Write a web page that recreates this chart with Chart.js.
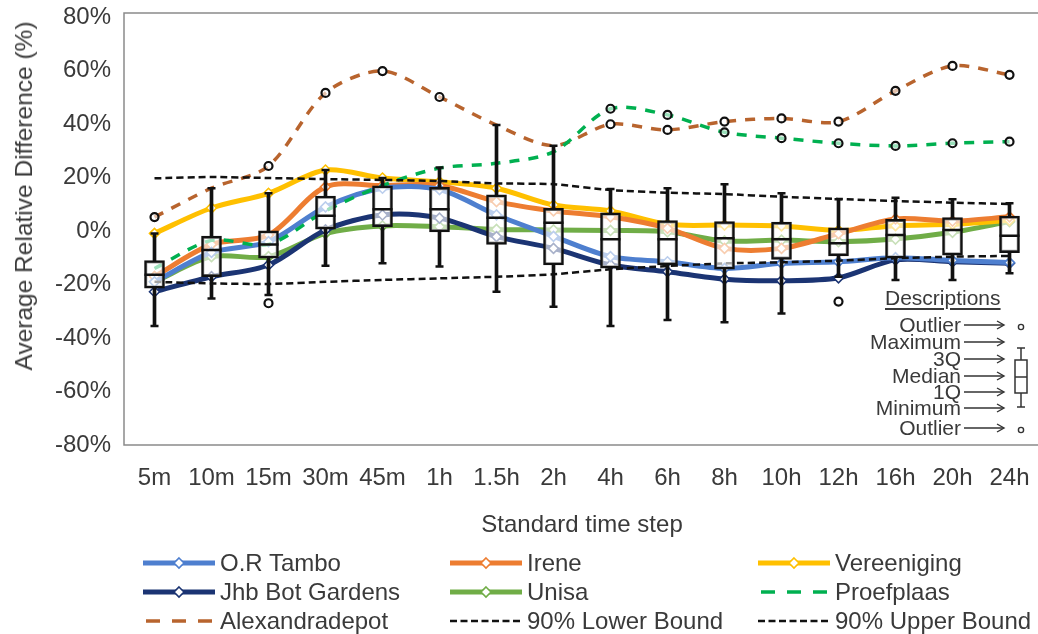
<!DOCTYPE html>
<html>
<head>
<meta charset="utf-8">
<script src="https://cdn.jsdelivr.net/npm/chart.js@4.4.1/dist/chart.umd.min.js"></script>
<style>
  html, body { margin: 0; padding: 0; background: #fff; }
  #wrap { position: relative; width: 1038px; height: 634px; overflow: hidden;
          font-family: 'Liberation Sans', Arial, sans-serif; color: #3a3a3a; }
  #c { position: absolute; left: 0; top: 0; }
  #ytitle { position: absolute; left: 24px; top: 196px; font-size: 24.5px; white-space: nowrap;
            transform: translate(-50%, -50%) rotate(-90deg); }
  .lg { position: absolute; height: 28px; font-size: 24px; line-height: 28px; white-space: nowrap;
        display: flex; align-items: center; }
  .lg svg { margin-right: 5px; flex: none; }
  .ds { position: absolute; font-size: 21px; line-height: 22px; white-space: nowrap;
        transform: translate(-100%, -50%); }
  #dtitle { position: absolute; left: 885px; top: 286px; font-size: 21px; line-height: 24px;
            text-decoration: underline; text-underline-offset: 3px; }
  #dsvg { position: absolute; left: 0; top: 0; }
</style>
</head>
<body>
<div id="wrap">
  <canvas id="c" width="1038" height="634"></canvas>
  <div id="ytitle">Average Relative Difference (%)</div>
  <div id="legend"></div>
  <div id="desc"></div>
</div>
<script>
// Time steps on the x axis and the y tick values
const categories = ['5m', '10m', '15m', '30m', '45m', '1h', '1.5h', '2h', '4h', '6h', '8h', '10h', '12h', '16h', '20h', '24h'];
const yTickValues = [-80, -60, -40, -20, 0, 20, 40, 60, 80];

// Average relative difference (%) per station
const orTambo        = [-19, -8, -4, 9, 16, 15.5, 6, -2, -9.6, -11.5, -14, -12.1, -11.5, -10, -11, -11.8];
const irene          = [-17, -5, -1.5, 16.5, 17, 17, 11, 7.5, 5.3, 1, -6.5, -6.5, -1, 4.5, 3.7, 5.3];
const vereeniging    = [-0.9, 8.6, 14.1, 22.8, 19.8, 18.4, 16, 9.7, 7.5, 2.5, 2.2, 1.9, 0.2, 2, 2.5, 4];
const jhbBotGardens  = [-22.7, -17.1, -12.7, 0.4, 6, 4.8, -2.1, -6.5, -12.7, -15.2, -18, -18.6, -17.5, -10.8, -11.5, -12.1];
const unisa          = [-19, -9.6, -9.6, -0.9, 1.9, 1.6, 0.6, 0.4, 0.2, -0.3, -3.7, -3.4, -4, -3, -0.5, 3.5];
const proefplaas     = [-14, -3.5, -5, 7.5, 17, 23.5, 25.3, 29.6, 45.7, 43.4, 36.9, 34.7, 32.8, 31.8, 32.8, 33.4];
const alexandradepot = [5.2, 16, 24.3, 51.6, 59.8, 50.1, 39.6, 31.9, 39.9, 37.8, 40.9, 42.1, 40.9, 52.4, 61.7, 58.4];

// 90% bounds
const lowerBound = [-19.0, -19.6, -19.8, -19.0, -18.3, -17.7, -17.1, -16.2, -14.3, -13.1, -12.1, -11.7, -11.1, -10.2, -9.6, -9.3];
const upperBound = [19.7, 20.2, 19.8, 19.4, 19.1, 18.7, 17.8, 17.5, 15.3, 14.3, 13.8, 12.8, 12.0, 11.2, 10.6, 10.1];

// Box plot statistics per time step
const boxMin    = [-35.5, -25.2, -23.9, -13.0, -12.1, -13.3, -22.7, -28.3, -35.5, -33.3, -34.1, -30.8, -17.1, -18.3, -18.3, -15.8];
const boxQ1     = [-21.4, -17.1, -10.2, 0.7, 1.6, -0.3, -5.0, -12.7, -13.9, -12.7, -14.3, -10.6, -9.3, -10.2, -9.0, -8.1];
const boxMedian = [-16.4, -7.1, -5.0, 5.7, 8.1, 8.1, 5.0, 3.1, -3.1, -3.1, -2.7, -3.1, -4.6, -1.5, 0.4, -1.8];
const boxQ3     = [-11.1, -1.9, 0.1, 13.1, 16.9, 16.3, 13.5, 8.5, 6.8, 3.9, 3.5, 3.3, 1.2, 4.4, 5.0, 5.6];
const boxMax    = [-0.9, 16.0, 14.1, 22.8, 19.8, 23.7, 39.6, 31.9, 15.7, 16.0, 17.5, 14.1, 11.9, 12.4, 11.9, 10.4];

// Outliers (time step, value)
const outlierSteps  = ['5m', '15m', '15m', '30m', '45m', '1h', '4h', '4h', '6h', '6h', '8h', '8h', '10h', '10h', '12h', '12h', '12h', '16h', '16h', '20h', '20h', '24h', '24h'];
const outlierValues = [5.2, 24.3, -27.0, 51.6, 59.8, 50.1, 45.7, 39.9, 43.4, 37.8, 40.9, 36.9, 42.1, 34.7, 40.9, 32.8, -26.4, 52.4, 31.8, 61.7, 32.8, 58.4, 33.4];

const series = [
  { label: 'O.R Tambo',       data: orTambo,        color: '#4E7FCF', kind: 'solid' },
  { label: 'Irene',           data: irene,          color: '#ED7D31', kind: 'solid' },
  { label: 'Vereeniging',     data: vereeniging,    color: '#FFC000', kind: 'solid' },
  { label: 'Jhb Bot Gardens', data: jhbBotGardens,  color: '#1B3473', kind: 'solid' },
  { label: 'Unisa',           data: unisa,          color: '#70AD47', kind: 'solid' },
  { label: 'Proefplaas',      data: proefplaas,     color: '#00B050', kind: 'dash' },
  { label: 'Alexandradepot',  data: alexandradepot, color: '#B8642E', kind: 'dash' },
  { label: '90% Lower Bound', data: lowerBound,     color: '#111111', kind: 'bound' },
  { label: '90% Upper Bound', data: upperBound,     color: '#111111', kind: 'bound' }
];

function lineDataset(s) {
  const base = { type: 'line', label: s.label, data: s.data, borderColor: s.color, fill: false };
  if (s.kind === 'solid') {
    return Object.assign(base, { borderWidth: 5, tension: 0.3, order: 10,
      pointStyle: 'rectRot', pointRadius: 5, pointBackgroundColor: '#ffffff',
      pointBorderColor: s.color, pointBorderWidth: 1.6 });
  }
  if (s.kind === 'dash') {
    return Object.assign(base, { borderWidth: 3.5, borderDash: [10, 9], tension: 0.3, order: 9, pointRadius: 0 });
  }
  return Object.assign(base, { borderWidth: 2.5, borderDash: [7, 4], tension: 0.2, order: 8, pointRadius: 0 });
}

const boxDatasets = [
  { type: 'bar', label: 'box', data: categories.map((_, i) => [boxQ1[i], boxQ3[i]]),
    backgroundColor: 'rgba(255,255,255,0.62)', borderColor: '#111', borderWidth: 2.5,
    borderSkipped: false, barThickness: 20, grouped: false, order: 4 },
  { type: 'bar', label: 'whiskerLow', data: categories.map((_, i) => [boxMin[i], boxQ1[i]]),
    backgroundColor: '#111', borderWidth: 0, barThickness: 3, grouped: false, order: 3 },
  { type: 'bar', label: 'whiskerHigh', data: categories.map((_, i) => [boxQ3[i], boxMax[i]]),
    backgroundColor: '#111', borderWidth: 0, barThickness: 3, grouped: false, order: 3 },
  { type: 'line', label: 'capMin', data: boxMin, showLine: false, pointStyle: 'line',
    pointRadius: 4, pointBorderWidth: 2.5, pointBorderColor: '#111', order: 2 },
  { type: 'line', label: 'capMax', data: boxMax, showLine: false, pointStyle: 'line',
    pointRadius: 4, pointBorderWidth: 2.5, pointBorderColor: '#111', order: 2 },
  { type: 'line', label: 'median', data: boxMedian, showLine: false, pointStyle: 'line',
    pointRadius: 10, pointBorderWidth: 2.5, pointBorderColor: '#111', order: 2 },
  { type: 'line', label: 'outliers', data: outlierSteps.map((s, i) => ({ x: s, y: outlierValues[i] })),
    showLine: false, pointStyle: 'circle', pointRadius: 4, pointBorderWidth: 2.2,
    pointBorderColor: '#111', pointBackgroundColor: 'rgba(255,255,255,0.6)', order: 1 }
];

// Grey frame on the left, top and bottom of the plot area
const frame = {
  id: 'frame',
  beforeDatasetsDraw(chart) {
    const { ctx, chartArea: a } = chart;
    const l = a.left - 2, t = a.top - 4;
    ctx.save();
    ctx.strokeStyle = '#8a8a8a';
    ctx.lineWidth = 1.5;
    ctx.beginPath();
    ctx.moveTo(a.right + 2, t);
    ctx.lineTo(l, t);
    ctx.lineTo(l, a.bottom);
    ctx.lineTo(a.right + 2, a.bottom);
    ctx.stroke();
    ctx.restore();
  }
};

Chart.defaults.font.family = "'Liberation Sans', Arial, sans-serif";
Chart.defaults.font.size = 24;
Chart.defaults.color = '#3a3a3a';

new Chart(document.getElementById('c'), {
  type: 'bar',
  data: { labels: categories, datasets: series.map(lineDataset).concat(boxDatasets) },
  options: {
    responsive: false,
    animation: false,
    events: [],
    layout: { autoPadding: false, padding: { left: 0, right: -3, top: 17, bottom: 88 } },
    plugins: { legend: { display: false }, tooltip: { enabled: false } },
    scales: {
      x: {
        grid: { display: false, drawTicks: false },
        border: { display: false },
        ticks: { padding: 19, maxRotation: 0, autoSkip: false, color: '#3a3a3a' },
        title: { display: true, text: 'Standard time step', color: '#3a3a3a',
                 font: { size: 24 }, padding: { top: 0, bottom: 6 } },
        afterFit(s) { s.height = 101; s.paddingLeft = 0; s.paddingRight = 0; }
      },
      y: {
        min: -80, max: 80,
        grid: { display: false, drawTicks: false },
        border: { display: false },
        afterBuildTicks(s) { s.ticks = yTickValues.map(v => ({ value: v })); },
        ticks: { padding: 15, color: '#3a3a3a', callback: v => v + '%' },
        afterFit(s) { s.width = 126; s.paddingTop = 0; s.paddingBottom = 0; }
      }
    }
  },
  plugins: [frame]
});

// Legend in three columns
const legendCols = [143, 450, 758];
const legendRows = [563, 592, 621];
function swatch(s) {
  let inner;
  if (s.kind === 'solid') {
    inner = `<line x1="0" y1="8" x2="72" y2="8" stroke="${s.color}" stroke-width="5"/>` +
            `<path d="M36 3 L41 8 L36 13 L31 8 Z" fill="#fff" stroke="${s.color}" stroke-width="1.6"/>`;
  } else if (s.kind === 'dash') {
    inner = `<line x1="3" y1="8" x2="72" y2="8" stroke="${s.color}" stroke-width="3.5" stroke-dasharray="14 12"/>`;
  } else {
    inner = `<line x1="0" y1="8" x2="72" y2="8" stroke="${s.color}" stroke-width="2.5" stroke-dasharray="7 3.5"/>`;
  }
  return `<svg width="72" height="16" viewBox="0 0 72 16">${inner}</svg>`;
}
document.getElementById('legend').innerHTML = series.map((s, i) => {
  const x = legendCols[i % 3], y = legendRows[Math.floor(i / 3)] - 14;
  return `<div class="lg" style="left:${x}px;top:${y}px">${swatch(s)}<span>${s.label}</span></div>`;
}).join('');

// Box plot description key
const descLabels = ['Outlier', 'Maximum', '3Q', 'Median', '1Q', 'Minimum', 'Outlier'];
const descY = [325, 342, 359, 376, 392, 408, 428];
let html = '<div id="dtitle">Descriptions</div>';
descLabels.forEach((t, i) => { html += `<div class="ds" style="left:961px;top:${descY[i]}px">${t}</div>`; });
let svg = '<svg id="dsvg" width="1038" height="634">';
descY.forEach(y => {
  svg += `<line x1="964" y1="${y}" x2="1003" y2="${y}" stroke="#333" stroke-width="1.4"/>` +
         `<path d="M997 ${y - 4} L1004 ${y} L997 ${y + 4}" fill="none" stroke="#333" stroke-width="1.4"/>`;
});
svg += '<circle cx="1021" cy="327" r="2.6" fill="#fff" stroke="#333" stroke-width="1.4"/>' +
       '<line x1="1021" y1="348" x2="1021" y2="407" stroke="#333" stroke-width="1.5"/>' +
       '<line x1="1017" y1="348" x2="1025" y2="348" stroke="#333" stroke-width="1.5"/>' +
       '<line x1="1017" y1="407" x2="1025" y2="407" stroke="#333" stroke-width="1.5"/>' +
       '<rect x="1015" y="360" width="12" height="33" fill="#fff" stroke="#333" stroke-width="1.5"/>' +
       '<line x1="1015" y1="377" x2="1027" y2="377" stroke="#333" stroke-width="1.5"/>' +
       '<circle cx="1021" cy="430" r="2.6" fill="#fff" stroke="#333" stroke-width="1.4"/>' +
       '</svg>';
document.getElementById('desc').innerHTML = svg + html;
</script>
</body>
</html>
